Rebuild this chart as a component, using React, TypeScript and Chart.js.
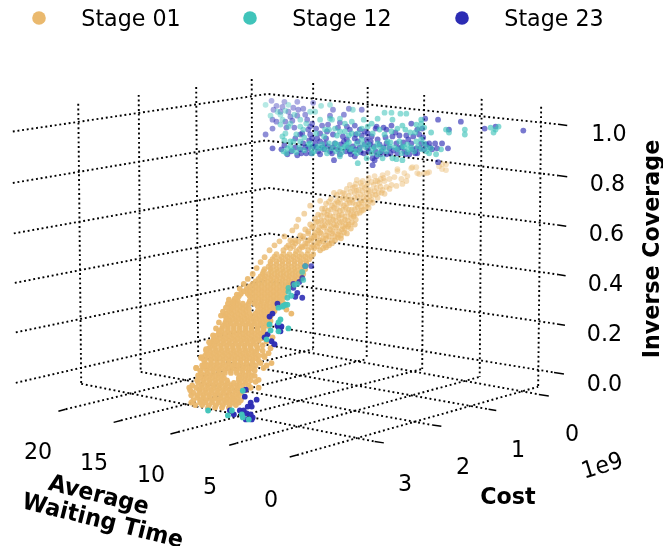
import { useEffect, useRef } from "react";
import { Chart, registerables } from "chart.js";

Chart.register(...registerables);

const W = 663;
const H = 546;

const stageNames = ["Stage 01", "Stage 12", "Stage 23"];
const stageRgb = ["234,185,110", "64,196,186", "44,44,180"];

const coverageTicks = ["1.0", "0.8", "0.6", "0.4", "0.2", "0.0"];
const costTicks = ["0", "1", "2", "3"];
const waitTicks = ["20", "15", "10", "5", "0"];

// Projected plane positions of the 3-D axes
const coverageLines = [
  [[10, 130], [267, 92], [560, 122.7]],
  [[10, 182], [265, 139], [560, 174.5]],
  [[11, 233], [268, 187], [560, 224.5]],
  [[12, 283], [268, 233], [560, 274.5]],
  [[13, 333], [264, 281], [559, 324.5]],
  [[13, 384], [265, 326], [556, 373.5]],
];
const coverageTickMarks = [
  [[560, 122.7], [569.3, 124]],
  [[560, 174.5], [569.3, 175.8]],
  [[560, 224.5], [568.3, 225.8]],
  [[560, 274.5], [567.7, 275.8]],
  [[559, 324.5], [567, 325.8]],
  [[556, 373.5], [566, 375]],
];
const leftVerticals = [
  [[76, 102], [79, 385]],
  [[137, 93], [139, 373]],
  [[195, 85], [197, 358]],
  [[251, 77], [252, 343]],
];
const rightVerticals = [
  [[313, 81], [313, 350]],
  [[368, 85], [367, 360]],
  [[425, 93], [423, 370]],
  [[483, 97], [481, 378]],
  [[543, 105], [540, 388]],
];
const costFloorLines = [
  [[79, 385], [375, 443.3]],
  [[139, 373], [433.3, 426.7]],
  [[197, 358], [490, 410.7]],
  [[252, 343], [540.7, 395.7]],
];
const waitFloorLines = [
  [[63.3, 410.7], [313, 350]],
  [[119, 422], [367, 360]],
  [[176.7, 433.7], [423, 370]],
  [[235.7, 445], [481, 378]],
  [[296.7, 457], [540, 388]],
];
const costTickMarks = [
  [[540.7, 395.7], [550.7, 397.3]],
  [[490, 410.7], [497.7, 412]],
  [[433.3, 426.7], [442.3, 428]],
  [[375, 443.3], [384.3, 444.7]],
];
const waitTickMarks = [
  [[56, 412.7], [63.3, 410.7]],
  [[111.7, 424], [119, 422]],
  [[169, 435.7], [176.7, 433.7]],
  [[228.3, 447], [235.7, 445]],
  [[289.3, 459], [296.7, 457]],
];

// Stage 01: dense lower body, one row per projected height
const stage01Rows: [number, number[]][] = [
  [409, [207, 214, 221, 228]],
  [406.5, [194, 201, 208, 215, 222, 229, 235]],
  [404, [190, 199, 204, 211, 218, 225, 232, 238]],
  [401.5, [192, 199, 205, 211, 217, 223, 229, 234, 240]],
  [399, [196, 202, 208, 214, 220, 226, 231, 236]],
  [396.5, [190, 196, 202, 208, 214, 220, 226, 232, 238]],
  [394, [192, 199, 205, 211, 217, 223, 229, 235, 240]],
  [391.5, [189, 198, 204, 210, 216, 222, 228, 234, 240, 245]],
  [389, [188, 195, 201, 207, 213, 219, 225, 231, 237, 250, 258]],
  [386.5, [191, 200, 206, 212, 218, 224, 230, 236, 242, 248]],
  [384, [197, 203, 209, 215, 221, 227, 233, 239, 245]],
  [381.5, [196, 202, 208, 214, 220, 226, 238, 244, 250]],
  [379, [199, 205, 211, 217, 223, 238, 241, 247]],
  [376.5, [197, 203, 209, 215, 221, 239, 245, 251]],
  [374, [200, 206, 212, 218, 224, 230, 236, 242, 248]],
  [371.5, [199, 206, 212, 218, 224, 230, 236, 242, 248, 254]],
  [369, [195, 203, 209, 215, 221, 227, 233, 239, 245, 251, 263]],
  [366.5, [201, 207, 213, 219, 225, 231, 237, 243, 249, 255, 266]],
  [364, [204, 210, 216, 222, 228, 234, 240, 246, 252, 260, 271]],
  [361.5, [203, 210, 216, 222, 228, 234, 240, 246, 252, 258]],
  [359, [200, 207, 213, 219, 225, 231, 237, 243, 249, 255]],
  [356.5, [204, 210, 216, 222, 228, 234, 240, 246, 252, 258, 263]],
  [354, [206, 212, 218, 224, 230, 236, 242, 248, 254, 268]],
  [351.5, [205, 209, 215, 221, 227, 233, 239, 245, 251, 256, 262]],
  [349, [208, 214, 220, 226, 232, 238, 244, 250, 257, 270]],
  [346.5, [210, 214, 220, 226, 232, 238, 244, 250, 256]],
  [344, [211, 217, 223, 229, 235, 241, 247, 253]],
  [341.5, [212, 216, 222, 228, 234, 240, 246, 252, 258]],
  [339, [213, 219, 225, 231, 237, 243, 249, 255, 261]],
  [336.5, [215, 221, 227, 233, 239, 245, 251, 257, 263]],
  [334, [218, 224, 230, 236, 242, 248, 254, 260]],
  [331.5, [218, 221, 227, 233, 239, 245, 251, 257, 263]],
  [329, [221, 227, 233, 239, 245, 251, 257, 263]],
  [326.5, [222, 227, 233, 239, 245, 251, 257, 263, 268]],
  [324, [224, 230, 236, 242, 248, 254, 260, 266]],
  [321.5, [225, 229, 235, 241, 247, 253, 259, 265, 270]],
  [319, [226, 232, 238, 244, 250, 256, 262, 268]],
  [316.5, [224, 228, 234, 240, 246, 252, 258, 264, 270]],
  [314, [225, 231, 237, 243, 249, 255, 261, 267, 291]],
  [311.5, [228, 233, 239, 245, 257, 263, 269, 274]],
  [309, [230, 236, 242, 248, 260, 266, 272]],
  [306.5, [230, 233, 239, 245, 257, 263, 269, 275]],
  [304, [227, 236, 242, 248, 254, 260, 266, 272, 278]],
  [301.5, [233, 237, 249, 255, 261, 267, 273, 279]],
  [299, [234, 252, 258, 264, 270, 276, 282]],
  [296.5, [238, 249, 255, 261, 267, 273, 279, 284]],
  [294, [240, 247, 252, 258, 264, 270, 276, 282]],
  [291.5, [243, 249, 255, 261, 267, 273, 279, 285]],
  [289, [246, 252, 258, 264, 270, 276, 282, 288]],
  [286.5, [249, 255, 261, 267, 273, 279, 285, 290]],
  [284, [252, 258, 264, 270, 276, 282, 288, 293]],
  [281.5, [255, 261, 267, 273, 279, 285, 291, 296]],
  [279, [258, 264, 270, 276, 282, 288, 294, 300]],
  [276.5, [260, 265, 271, 277, 283, 289, 295, 301]],
  [274, [262, 268, 274, 280, 286, 292, 298, 303]],
  [271.5, [263, 271, 277, 283, 289, 295, 301]],
  [269, [264, 270, 276, 282, 288, 294, 300, 305]],
  [266.5, [268, 273, 279, 285, 291, 297, 303]],
  [264, [270, 276, 282, 288, 294, 300, 306]],
  [261.5, [270, 276, 282, 288, 294, 300, 306]],
  [259, [272, 279, 285, 291, 297, 303, 309]],
  [256.5, [274, 281, 287, 293, 299, 305, 311]],
  [254, [276, 283, 289, 295, 301, 307, 313]],
];

// Stage 01: looser upper body, edge fringe and stray points
const stage01Loose: [number, number][] = [
  [283, 250], [290, 248], [296, 251], [302, 247], [308, 250], [314, 248], [320, 250], [326, 247],
  [288, 245], [295, 243], [301, 246], [307, 243], [313, 245], [319, 243], [325, 245], [332, 243],
  [295, 240], [302, 238], [308, 240], [314, 237], [320, 240], [326, 238], [332, 240], [338, 237],
  [292, 230], [300, 235], [308, 233], [314, 235], [320, 232], [326, 235], [332, 233], [338, 234], [344, 232],
  [305, 229], [312, 227], [318, 230], [324, 227], [330, 229], [336, 227], [342, 229], [348, 226],
  [298, 219], [310, 224], [316, 222], [322, 225], [328, 222], [334, 224], [340, 222], [346, 224], [352, 222],
  [304, 213], [315, 218], [321, 220], [327, 217], [333, 219], [339, 217], [345, 219], [351, 217], [356, 219],
  [318, 214], [324, 212], [330, 215], [336, 212], [342, 214], [348, 212], [354, 214], [360, 212],
  [322, 208], [328, 210], [334, 207], [340, 210], [346, 207], [352, 209], [358, 207], [364, 209], [369, 207],
  [310, 205], [326, 203], [332, 205], [338, 202], [344, 205], [350, 202], [356, 204], [362, 202], [368, 204], [373, 202],
  [320, 200], [331, 198], [337, 200], [343, 197], [349, 199], [355, 197], [361, 200], [367, 197], [372, 199], [378, 197],
  [337, 194], [343, 192], [349, 195], [355, 192], [361, 194], [367, 192], [373, 194], [379, 192], [385, 193],
  [334, 192], [340, 191], [347, 188], [353, 187], [359, 189], [365, 187], [371, 189], [377, 187], [383, 189], [390, 188],
  [350, 184], [356, 183], [362, 185], [368, 182], [374, 184], [380, 182], [385, 180], [392, 184],
  [357, 179], [363, 180], [369, 177], [375, 175], [381, 178], [388, 172], [383, 174], [397, 185], [403, 183],
  [407, 180], [408, 175], [402, 178], [398, 170], [398, 168], [405, 172], [413, 166], [412, 167], [417, 166],
  [418, 172], [420, 173], [425, 172], [428, 172], [430, 171], [440, 165], [443, 163], [443, 168], [447, 163], [447, 169],
  [286, 247], [293, 246], [299, 249], [305, 246], [311, 247], [317, 246], [323, 248], [329, 245],
  [292, 242], [298, 241], [305, 243], [311, 240], [317, 242], [323, 241], [329, 243], [335, 240], [341, 238],
  [303, 236], [311, 238], [317, 236], [323, 238], [329, 236], [335, 236], [341, 235], [347, 233],
  [308, 231], [315, 232], [321, 233], [327, 231], [333, 231], [339, 231], [345, 228], [351, 228],
  [313, 226], [319, 227], [325, 225], [331, 226], [337, 225], [343, 226], [349, 224], [355, 224],
  [318, 221], [324, 220], [330, 221], [336, 220], [342, 221], [348, 220], [354, 216],
  [321, 215], [327, 214], [333, 216], [339, 215], [345, 216], [351, 214], [357, 213], [362, 210],
  [325, 208], [331, 209], [337, 208], [343, 209], [349, 209], [355, 209], [361, 206], [366, 206],
  [329, 201], [335, 203], [341, 203], [347, 203], [353, 202], [359, 203], [365, 200], [370, 200],
  [340, 198], [346, 198], [352, 199], [358, 196], [364, 196], [370, 195], [376, 194], [382, 192],
  [345, 193], [351, 191], [357, 190], [363, 190], [369, 190], [375, 190], [381, 186], [387, 186],
  [355, 186], [361, 182], [367, 185], [372, 181], [378, 180], [384, 177], [376, 180], [390, 178], [395, 176],
  [203, 367], [195, 369], [200, 358], [205, 350], [208, 343], [212, 336], [215, 329], [218, 323], [220, 316],
  [225, 308], [222, 312], [228, 300], [232, 303], [236, 295], [239, 289], [243, 284], [247, 279], [252, 274],
  [256, 268], [260, 262], [264, 257], [269, 250], [274, 245], [279, 241], [284, 236], [290, 240], [296, 226],
  [262, 346], [266, 342], [272, 338], [258, 381], [254, 377], [264, 358], [255, 383], [286, 310], [283, 304],
];

const stage12Points: [number, number][] = [
  [265, 103], [288, 103], [321, 104], [280, 113], [277, 110], [282, 118], [280, 123], [290, 122], [288, 125],
  [282, 135], [285, 132], [287, 147], [290, 145], [293, 140], [300, 125], [303, 128], [310, 110], [315, 110],
  [320, 118], [330, 117], [332, 118], [340, 117], [345, 122], [353, 108], [364, 118], [378, 117], [385, 111],
  [392, 111], [393, 118], [401, 112], [407, 112], [403, 124], [417, 123], [422, 118], [432, 131], [447, 128],
  [450, 131], [466, 133], [466, 128], [492, 126], [500, 125], [497, 128], [495, 131], [358, 162], [340, 155],
  [327, 152], [337, 143], [343, 147], [350, 148], [357, 142], [363, 143], [373, 148], [380, 145], [390, 145],
  [397, 158], [403, 159], [403, 145], [410, 148], [417, 140], [422, 138], [427, 150], [430, 152], [437, 153],
  [442, 148], [422, 122], [335, 127], [340, 130], [323, 147], [310, 142], [300, 140], [290, 140], [312, 152],
  [357, 152], [367, 157], [383, 157], [393, 157], [347, 143], [352, 132], [358, 132], [335, 142], [317, 145],
  [408, 143], [400, 140], [388, 140], [378, 153],
  [283, 150], [286, 152], [292, 149], [296, 151], [299, 146], [304, 149], [308, 143], [311, 147], [314, 150],
  [319, 147], [322, 143], [326, 148], [329, 142], [332, 147], [336, 150], [339, 147], [342, 151], [345, 145],
  [349, 141], [352, 147], [355, 150], [360, 148], [362, 138], [366, 146], [369, 143], [372, 152], [375, 146],
  [378, 142], [381, 150], [384, 147], [387, 150], [391, 141], [395, 146], [398, 148], [402, 152], [405, 146],
  [408, 151], [412, 146], [415, 150], [419, 145], [422, 148], [425, 142], [428, 146], [432, 147], [284, 139],
  [296, 133], [304, 136], [316, 132], [324, 135], [329, 128], [337, 134], [345, 130], [349, 134], [362, 127],
  [368, 125], [373, 132], [380, 128], [385, 133], [392, 130], [398, 127], [406, 128], [411, 131], [416, 131],
  [420, 127], [425, 126], [300, 118], [306, 122], [294, 113], [270, 114], [285, 109], [325, 128], [352, 120],
  [372, 122], [330, 103],
  [305, 266], [302, 272], [303, 280], [297, 284], [294, 285], [288, 288], [288, 292], [291, 296], [287, 298],
  [287, 305], [283, 306], [278, 308], [285, 305], [282, 307], [280, 320], [278, 323], [269, 325], [270, 331],
  [278, 332], [288, 329], [266, 340], [242, 392], [207, 412], [227, 417], [231, 412], [241, 416], [242, 419], [248, 421],
];

const stage23Points: [number, number][] = [
  [271, 99], [273, 108], [282, 105], [288, 110], [297, 100], [298, 108], [303, 107], [297, 114], [290, 115],
  [272, 118], [272, 127], [265, 133], [272, 147], [287, 153], [313, 101], [333, 108], [349, 107], [362, 108],
  [307, 118], [312, 122], [308, 128], [320, 132], [328, 123], [330, 114], [340, 121], [347, 125], [355, 124],
  [360, 128], [365, 130], [326, 137], [312, 137], [303, 142], [295, 137], [315, 142], [320, 140], [318, 150],
  [320, 153], [308, 147], [297, 154], [334, 159], [346, 150], [355, 155], [355, 137], [372, 135], [378, 138],
  [370, 143], [373, 157], [375, 159], [373, 164], [387, 128], [392, 124], [400, 134], [407, 134], [397, 142],
  [398, 152], [412, 122], [418, 128], [423, 127], [426, 117], [439, 118], [412, 142], [422, 142], [430, 142],
  [425, 148], [417, 147], [438, 147], [443, 142], [449, 147], [450, 128], [462, 120], [486, 127], [497, 125],
  [525, 129], [439, 161], [410, 153], [387, 153], [367, 138], [380, 143], [387, 142], [347, 138], [353, 145],
  [340, 153], [332, 152], [285, 120], [293, 106], [284, 100], [276, 104], [302, 132], [310, 133], [316, 146],
  [324, 148], [328, 145], [335, 142], [343, 135], [350, 150], [360, 146], [364, 152], [369, 150], [376, 150],
  [382, 150], [390, 147], [393, 135], [402, 146], [405, 150], [414, 135], [420, 133], [416, 152], [424, 136],
  [433, 148], [300, 148], [306, 152], [311, 152], [358, 140],
  [281, 148], [284, 144], [291, 150], [295, 146], [301, 152], [305, 146], [309, 139], [313, 145], [317, 137],
  [322, 146], [325, 142], [330, 150], [333, 146], [338, 148], [341, 143], [344, 140], [348, 146], [351, 153],
  [356, 148], [361, 151], [365, 143], [368, 147], [371, 140], [374, 145], [377, 155], [381, 153], [384, 146],
  [386, 136], [391, 152], [394, 149], [396, 131], [399, 147], [404, 141], [406, 153], [409, 138], [413, 148],
  [418, 152], [421, 147], [427, 143], [431, 146], [436, 142], [294, 126], [300, 133], [305, 113], [316, 127],
  [322, 124], [327, 130], [333, 133], [338, 126], [350, 128], [356, 133], [362, 134], [368, 132], [377, 125],
  [384, 126], [280, 110], [276, 120], [292, 119], [286, 126], [310, 125], [344, 113], [376, 127],
  [305, 266], [311, 266], [302, 278], [299, 282], [293, 284], [293, 288], [297, 293], [295, 297], [302, 298],
  [277, 304], [272, 314], [269, 317], [277, 326], [281, 327], [278, 328], [280, 332], [267, 335], [264, 338],
  [271, 342], [274, 345], [245, 391], [244, 398], [256, 401], [250, 404], [247, 408], [251, 408], [229, 412],
  [233, 416], [239, 412], [243, 412], [246, 415], [250, 416], [252, 419], [245, 421], [251, 421],
];

const toXY = ([x, y]: number[]) => ({ x, y });
const clamp = (v: number, a: number, b: number) => Math.min(b, Math.max(a, v));

function tanShade(ctx: any) {
  const p = ctx.parsed;
  if (!p) return `rgba(${stageRgb[0]},1)`;
  return `rgba(${stageRgb[0]},${clamp(0.42 + ((p.y - 170) / 120) * 0.55, 0.42, 0.97)})`;
}
function coolShade(rgb: string) {
  return (ctx: any) => {
    const p = ctx.parsed;
    if (!p) return `rgba(${rgb},1)`;
    const a =
      p.y > 200
        ? clamp(0.7 + ((p.y - 260) / 60) * 0.3, 0.7, 0.97)
        : clamp(0.36 + ((p.y - 100) / 55) * 0.3 + ((p.x - 265) / 260) * 0.3, 0.36, 0.64);
    return `rgba(${rgb},${a})`;
  };
}

const lineSet = (pts: number[][], dotted: boolean) => ({
  type: "line" as const,
  data: pts.map(toXY),
  parsing: false as const,
  borderColor: "#000",
  borderWidth: dotted ? 1.9 : 1.5,
  borderDash: dotted ? [1.9, 2.8] : [],
  pointRadius: 0,
  tension: 0,
  fill: false,
  order: 10,
});

const labelPlugin = {
  id: "labels3d",
  afterDraw(chart: any) {
    const { ctx } = chart;
    const text = (s: string, x: number, y: number, bold = false, rot = 0) => {
      ctx.save();
      ctx.translate(x, y);
      ctx.rotate((rot * Math.PI) / 180);
      ctx.translate(0, 2);
      ctx.scale(1, 1.06);
      ctx.font = `${bold ? "bold " : ""}22.2px "DejaVu Sans"`;
      ctx.fillStyle = "#000";
      ctx.textAlign = "center";
      ctx.textBaseline = "middle";
      ctx.fillText(s, 0, 0);
      ctx.restore();
    };
    const legendMarkerX = [39, 250, 462];
    const legendTextX = [131, 342, 554];
    stageNames.forEach((name, i) => {
      ctx.beginPath();
      ctx.arc(legendMarkerX[i], 18, 6.8, 0, Math.PI * 2);
      ctx.fillStyle = `rgb(${stageRgb[i]})`;
      ctx.fill();
      text(name, legendTextX[i], 18);
    });
    const covPos = [[609, 133], [607.5, 183], [606.5, 233], [605.5, 283], [604.5, 333], [604.5, 383]];
    coverageTicks.forEach((t, i) => text(t, covPos[i][0], covPos[i][1]));
    const costPos = [[572, 433], [518, 449], [463, 466], [405, 483]];
    costTicks.forEach((t, i) => text(t, costPos[i][0], costPos[i][1]));
    const waitPos = [[38, 451], [94, 462], [151, 474], [210, 486], [271, 499]];
    waitTicks.forEach((t, i) => text(t, waitPos[i][0], waitPos[i][1]));
    text("1e9", 602, 465, false, -17);
    text("Cost", 508, 496, true);
    text("Average", 99, 494, true, 14);
    text("Waiting Time", 103, 520, true, 14);
    text("Inverse Coverage", 651, 249, true, -90);
  },
};

export default function App() {
  const ref = useRef<HTMLCanvasElement>(null);
  useEffect(() => {
    const stage01 = [
      ...stage01Rows.flatMap(([y, xs]) => xs.map((x) => ({ x, y }))),
      ...stage01Loose.map(toXY),
    ];
    const marks = (data: any[], name: string, bg: any, order: number) => ({
      type: "scatter" as const,
      label: name,
      data,
      backgroundColor: bg,
      borderWidth: 0,
      pointRadius: 2.9,
      pointHoverRadius: 2.9,
      order,
    });
    const chart = new Chart(ref.current!, {
      type: "scatter",
      data: {
        datasets: [
          marks(stage12Points.map(toXY), stageNames[1], coolShade(stageRgb[1]), 1),
          marks(stage23Points.map(toXY), stageNames[2], coolShade(stageRgb[2]), 2),
          marks(stage01, stageNames[0], tanShade, 3),
          ...[
            ...coverageLines,
            ...leftVerticals,
            ...rightVerticals,
            ...costFloorLines,
            ...waitFloorLines,
          ].map((l) => lineSet(l, true)),
          ...[...coverageTickMarks, ...costTickMarks, ...waitTickMarks].map((l) => lineSet(l, false)),
        ] as any,
      },
      options: {
        animation: false,
        responsive: false,
        layout: { padding: 0 },
        plugins: { legend: { display: false }, tooltip: { enabled: false } },
        scales: {
          x: { type: "linear", min: 0, max: W, display: false },
          y: { type: "linear", min: 0, max: H, reverse: true, display: false },
        },
      },
      plugins: [labelPlugin],
    });
    return () => chart.destroy();
  }, []);
  return (
    <canvas
      ref={ref}
      width={W}
      height={H}
      style={{ position: "absolute", left: 0, top: 0, width: W, height: H, display: "block" }}
    />
  );
}
